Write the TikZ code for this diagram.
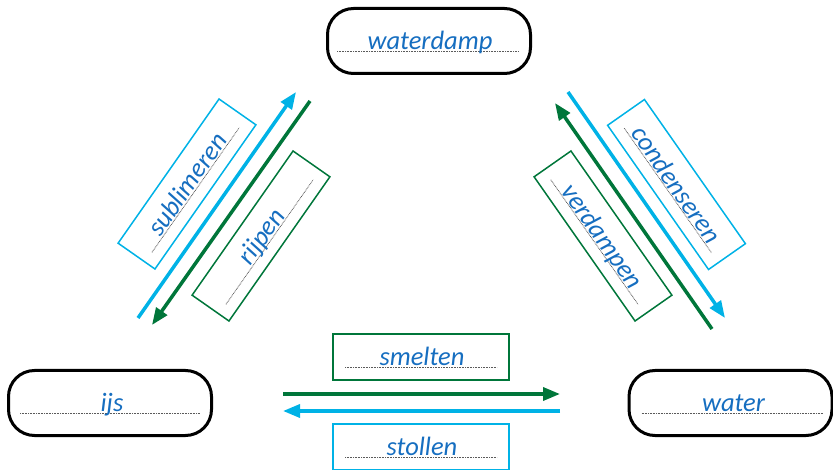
\documentclass[tikz,border=0pt]{standalone}
\usepackage{fontspec}
\setmainfont{Carlito}
\usetikzlibrary{arrows.meta,calc}
\definecolor{phcyan}{RGB}{0,178,230}
\definecolor{phgreen}{RGB}{0,118,58}
\definecolor{phtext}{RGB}{22,110,192}
\definecolor{dotgray}{RGB}{90,90,90}
\tikzset{
  state/.style={draw=black, line width=3pt, rounded corners=26pt,
    minimum width=203pt, minimum height=65pt, inner sep=0pt},
  cyanbox/.style={draw=phcyan, line width=1.5pt,
    minimum width=176pt, minimum height=45pt, inner sep=0pt},
  greenbox/.style={draw=phgreen, line width=1.5pt,
    minimum width=176pt, minimum height=45pt, inner sep=0pt},
  lbl/.style={text=phtext, font=\fontsize{26.5}{30}\selectfont\itshape,
    inner sep=0pt, anchor=base},
  dotline/.style={draw=dotgray, line width=0.8pt, dash pattern=on 0.8pt off 0.8pt},
  flowcyan/.style={draw=phcyan, line width=3.5pt, -{Triangle[length=17pt,width=13pt]}},
  flowgreen/.style={draw=phgreen, line width=3.5pt, -{Triangle[length=17pt,width=13pt]}}
}
\begin{document}
\begin{tikzpicture}[x=1pt, y=-1pt]
\useasboundingbox (0,0) rectangle (833,470);

% states
\node[state] (damp) at (429,41) {};
\draw[dotline] ($(damp.center)+(-92,10.5)$) -- ($(damp.center)+(90,10.5)$);
\node[lbl] (damptxt) at ($(damp.center)+(1,9)$) {waterdamp};

\node[state] (ijs) at (110,403) {};
\draw[dotline] ($(ijs.center)+(-90,10)$) -- ($(ijs.center)+(90,10)$);
\node[lbl] (ijstxt) at ($(ijs.center)+(2,8.5)$) {ijs};

\node[state] (water) at (730.5,403) {};
\draw[dotline] ($(water.center)+(-89,10)$) -- ($(water.center)+(92,10)$);
\node[lbl] (watertxt) at ($(water.center)+(3,8.5)$) {water};

% arrow end points
\coordinate (subA) at (138,318);  \coordinate (subB) at (296,92);
\coordinate (rijA) at (310,101);  \coordinate (rijB) at (152,325);
\coordinate (conA) at (568,92);   \coordinate (conB) at (725,318);
\coordinate (verA) at (712,329);  \coordinate (verB) at (555,103);
\coordinate (smeA) at (283,394);  \coordinate (smeB) at (560,394);
\coordinate (stoA) at (560,411);  \coordinate (stoB) at (283,411);

\draw[flowcyan]  (subA) -- (subB);
\draw[flowgreen] (rijA) -- (rijB);
\draw[flowcyan]  (conA) -- (conB);
\draw[flowgreen] (verA) -- (verB);
\draw[flowgreen] (smeA) -- (smeB);
\draw[flowcyan]  (stoA) -- (stoB);

% process labels
\begin{scope}[shift={(187,184)}, rotate=55]
  \node[cyanbox, transform shape] (sub) at (0,0) {};
  \draw[dotline] (-76,10.5) -- (76,10.5);
  \node[lbl, transform shape] (subtxt) at (0,9) {sublimeren};
\end{scope}
\begin{scope}[shift={(261,236)}, rotate=55]
  \node[greenbox, transform shape] (rij) at (0,0) {};
  \draw[dotline] (-76,10.5) -- (76,10.5);
  \node[lbl, transform shape] (rijtxt) at (0,9) {rijpen};
\end{scope}
\begin{scope}[shift={(676.5,184.5)}, rotate=-55]
  \node[cyanbox, transform shape] (con) at (0,0) {};
  \draw[dotline] (-76,10.5) -- (76,10.5);
  \node[lbl, transform shape] (contxt) at (0,9) {condenseren};
\end{scope}
\begin{scope}[shift={(603,236)}, rotate=-55]
  \node[greenbox, transform shape] (ver) at (0,0) {};
  \draw[dotline] (-76,10.5) -- (76,10.5);
  \node[lbl, transform shape] (vertxt) at (0,9) {verdampen};
\end{scope}

\node[greenbox, minimum height=46pt] (sme) at (421,357) {};
\draw[dotline] ($(sme.center)+(-76,10.5)$) -- ($(sme.center)+(76,10.5)$);
\node[lbl] (smetxt) at ($(sme.center)+(1,9)$) {smelten};

\node[cyanbox, minimum height=46pt] (sto) at (421,447) {};
\draw[dotline] ($(sto.center)+(-76,10)$) -- ($(sto.center)+(76,10)$);
\node[lbl] (stotxt) at ($(sto.center)+(1,8.5)$) {stollen};
\end{tikzpicture}
\end{document}
